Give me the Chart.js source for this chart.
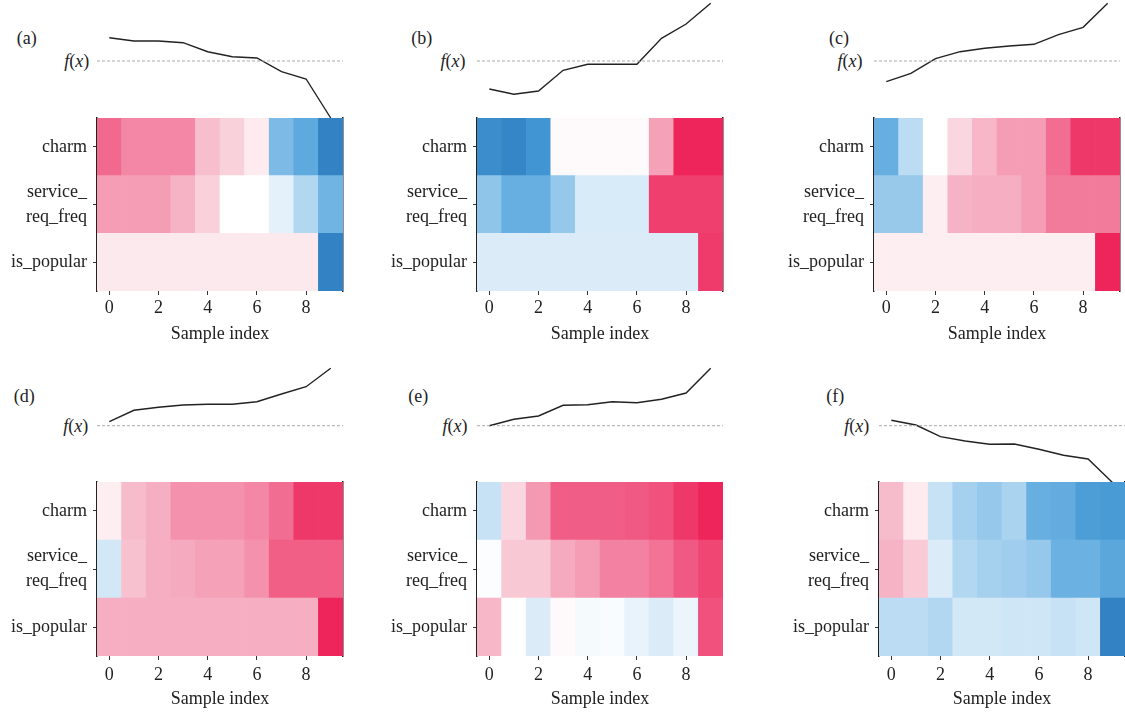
<!DOCTYPE html>
<html>
<head>
<meta charset="utf-8">
<title>SHAP heatmaps</title>
<script src="https://cdn.jsdelivr.net/npm/chart.js@4.4.1/dist/chart.umd.min.js"></script>
<style>
  body { margin: 0; background: #fff; }
  #fig { position: relative; width: 1125px; height: 713px; overflow: hidden;
         font-family: "Liberation Serif", serif; color: #222; }
  #fig canvas { position: absolute; }
  .lbl { position: absolute; font-size: 18px; white-space: nowrap;
         transform: translate(-50%, -50%); }
</style>
</head>
<body>
<div id="fig"></div>
<script>
// ---- data ----
const sampleIdx = [0, 1, 2, 3, 4, 5, 6, 7, 8, 9];
const xTickVals = [0, 2, 4, 6, 8];
const featureNames = ['is_popular', ['service_', 'req_freq'], 'charm']; // bottom -> top

// f(x) minus base value, per sample
const fxA = [0.233, 0.20, 0.20, 0.183, 0.093, 0.043, 0.03, -0.107, -0.18, -0.57];
const fxB = [-0.28, -0.333, -0.30, -0.093, -0.033, -0.033, -0.033, 0.227, 0.37, 0.577];
const fxC = [-0.207, -0.123, 0.023, 0.093, 0.127, 0.15, 0.167, 0.263, 0.337, 0.577];
const fxD = [0.04, 0.154, 0.184, 0.207, 0.214, 0.214, 0.24, 0.317, 0.39, 0.574];
const fxE = [0.0, 0.064, 0.097, 0.204, 0.21, 0.24, 0.23, 0.264, 0.327, 0.574];
const fxF = [0.054, 0.007, -0.11, -0.153, -0.186, -0.183, -0.236, -0.296, -0.333, -0.57];

// shap values (scaled -1..1)
const charmA   = [0.65, 0.5, 0.5, 0.5, 0.25, 0.18, 0.08, -0.45, -0.6, -0.95];
const serviceA = [0.4, 0.4, 0.4, 0.3, 0.18, 0, 0, -0.08, -0.25, -0.5];
const popularA = [0.09, 0.09, 0.09, 0.09, 0.09, 0.09, 0.09, 0.09, 0.09, -0.95];

const charmB   = [-0.85, -0.92, -0.78, 0.02, 0.02, 0.02, 0.02, 0.38, 0.97, 0.97];
const serviceB = [-0.38, -0.55, -0.55, -0.36, -0.12, -0.12, -0.12, 0.85, 0.85, 0.85];
const popularB = [-0.11, -0.11, -0.11, -0.11, -0.11, -0.11, -0.11, -0.11, -0.11, 0.87];

const charmC   = [-0.55, -0.22, 0, 0.16, 0.28, 0.4, 0.4, 0.63, 0.88, 0.88];
const serviceC = [-0.35, -0.35, 0.07, 0.3, 0.32, 0.32, 0.4, 0.56, 0.56, 0.56];
const popularC = [0.07, 0.07, 0.07, 0.07, 0.07, 0.07, 0.07, 0.07, 0.07, 0.97];

const charmD   = [0.07, 0.26, 0.32, 0.45, 0.45, 0.45, 0.5, 0.63, 0.88, 0.88];
const serviceD = [-0.14, 0.24, 0.32, 0.34, 0.38, 0.38, 0.45, 0.7, 0.7, 0.7];
const popularD = [0.32, 0.32, 0.32, 0.32, 0.32, 0.32, 0.32, 0.32, 0.32, 0.97];

const charmE   = [-0.18, 0.16, 0.42, 0.71, 0.71, 0.71, 0.73, 0.77, 0.88, 0.97];
const serviceE = [-0.01, 0.21, 0.21, 0.34, 0.4, 0.53, 0.53, 0.6, 0.73, 0.82];
const popularE = [0.28, 0, -0.11, 0.02, -0.03, -0.02, -0.07, -0.11, -0.06, 0.77];

const charmF   = [0.26, 0.08, -0.18, -0.3, -0.36, -0.28, -0.55, -0.57, -0.7, -0.72];
const serviceF = [0.3, 0.2, -0.11, -0.25, -0.3, -0.32, -0.36, -0.53, -0.53, -0.62];
const popularF = [-0.22, -0.22, -0.25, -0.14, -0.14, -0.15, -0.15, -0.18, -0.15, -0.95];

// ---- colour map (blue - white - red) ----
const cmapStops = [
  [-1.0, [45, 125, 192]], [-0.75, [68, 152, 212]], [-0.5, [112, 180, 228]],
  [-0.25, [178, 215, 240]], [-0.1, [222, 238, 249]], [0, [255, 255, 255]],
  [0.1, [252, 230, 236]], [0.25, [247, 190, 205]], [0.5, [243, 135, 165]],
  [0.75, [240, 85, 128]], [1.0, [238, 30, 85]]
];
function colorFor(v) {
  for (let i = 1; i < cmapStops.length; i++) {
    const [v1, c1] = cmapStops[i];
    const [v0, c0] = cmapStops[i - 1];
    if (v <= v1) {
      const t = (v - v0) / (v1 - v0);
      const c = c0.map((k, j) => Math.round(k + (c1[j] - k) * t));
      return `rgb(${c[0]},${c[1]},${c[2]})`;
    }
  }
  return 'rgb(238,30,85)';
}

Chart.defaults.font.family = '"Liberation Serif", serif';
Chart.defaults.font.size = 18;
Chart.defaults.color = '#222';
Chart.defaults.animation = false;

const UNIT = 100; // px per unit of f(x)
const HM_W = 246;
const AXIS_W = 100;
const X_AXIS_H = 62;

const panels = [
  { tag: '(a)', fx: fxA, rows: [popularA, serviceA, charmA], left: 97,  rowTop: 0,   hmTop: 118, hmH: 173, base: 61,    rightLine: true,  tagPos: [26.7, 37.7],  fxPos: [76.7, 61],   tickPad: 2, titlePad: 8 },
  { tag: '(b)', fx: fxB, rows: [popularB, serviceB, charmB], left: 477, rowTop: 0,   hmTop: 118, hmH: 173, base: 61,    rightLine: true,  tagPos: [421.7, 37.7], fxPos: [453, 61],    tickPad: 2, titlePad: 8 },
  { tag: '(c)', fx: fxC, rows: [popularC, serviceC, charmC], left: 874, rowTop: 0,   hmTop: 118, hmH: 173, base: 61,    rightLine: true,  tagPos: [839, 37.7],   fxPos: [850, 61],    tickPad: 2, titlePad: 8 },
  { tag: '(d)', fx: fxD, rows: [popularD, serviceD, charmD], left: 97,  rowTop: 355, hmTop: 482, hmH: 174, base: 425.7, rightLine: true,  tagPos: [24.3, 395.7], fxPos: [75.7, 425.7], tickPad: 4, titlePad: 8 },
  { tag: '(e)', fx: fxE, rows: [popularE, serviceE, charmE], left: 477, rowTop: 355, hmTop: 482, hmH: 174, base: 425.7, rightLine: false, tagPos: [418.3, 395.7], fxPos: [455, 425.7], tickPad: 4, titlePad: 8 },
  { tag: '(f)', fx: fxF, rows: [popularF, serviceF, charmF], left: 879, rowTop: 355, hmTop: 482, hmH: 174, base: 425.7, rightLine: true,  tagPos: [835.3, 395.7], fxPos: [856.7, 425.7], tickPad: 4, titlePad: 8 }
];

const fig = document.getElementById('fig');

function addCanvas(left, top, w, h) {
  const c = document.createElement('canvas');
  c.width = w; c.height = h;
  c.style.left = left + 'px'; c.style.top = top + 'px';
  c.style.width = w + 'px'; c.style.height = h + 'px';
  fig.appendChild(c);
  return c;
}

function addLabel(html, pos) {
  const d = document.createElement('div');
  d.className = 'lbl';
  d.innerHTML = html;
  d.style.left = pos[0] + 'px';
  d.style.top = pos[1] + 'px';
  fig.appendChild(d);
}

panels.forEach(p => {
  // f(x) line on top
  const lineBottom = p.hmTop + 3;
  const lc = addCanvas(p.left, p.rowTop, HM_W, lineBottom - p.rowTop);
  new Chart(lc, {
    type: 'line',
    data: {
      datasets: [
        { data: [{ x: -0.5, y: 0 }, { x: 9.5, y: 0 }], borderColor: '#aaa', borderWidth: 1,
          borderDash: [3, 2], pointRadius: 0 },
        { data: sampleIdx.map((x, i) => ({ x: x, y: p.fx[i] })), borderColor: '#222',
          borderWidth: 1.4, pointRadius: 0, tension: 0 }
      ]
    },
    options: {
      responsive: false,
      layout: { padding: 0 },
      plugins: { legend: { display: false }, tooltip: { enabled: false } },
      scales: {
        x: { type: 'linear', display: false, min: -0.5, max: 9.5 },
        y: { type: 'linear', display: false,
             min: (p.base - lineBottom) / UNIT, max: (p.base - p.rowTop) / UNIT }
      }
    }
  });

  // heatmap below
  const padTop = 20;
  const hc = addCanvas(p.left - AXIS_W, p.hmTop - padTop, AXIS_W + HM_W + 6, padTop + p.hmH + X_AXIS_H);
  new Chart(hc, {
    type: 'bar',
    data: {
      datasets: p.rows.map(vals => ({
        data: sampleIdx.map(x => ({ x: x, y: 1 })),
        backgroundColor: vals.map(colorFor),
        borderWidth: 0,
        barPercentage: 1,
        categoryPercentage: 1,
        stack: 'hm'
      }))
    },
    options: {
      responsive: false,
      layout: { padding: { top: padTop, right: 6, left: 0, bottom: 0 } },
      plugins: { legend: { display: false }, tooltip: { enabled: false } },
      scales: {
        x: {
          type: 'linear', min: -0.5, max: 9.5, offset: false, stacked: true,
          afterBuildTicks: s => { s.ticks = xTickVals.map(v => ({ value: v })); },
          afterFit: s => { s.height = X_AXIS_H; },
          ticks: { padding: p.tickPad, maxRotation: 0 },
          grid: { display: true, offset: false, drawOnChartArea: false, drawTicks: true,
                  tickLength: 4, color: '#333' },
          border: { display: false },
          title: { display: true, text: 'Sample index', padding: { top: 0, bottom: p.titlePad } }
        },
        y: {
          type: 'linear', min: 0, max: 3, stacked: true,
          afterBuildTicks: s => { s.ticks = [0.5, 1.5, 2.5].map(v => ({ value: v })); },
          afterFit: s => { s.width = AXIS_W; },
          ticks: { padding: 6, font: { lineHeight: 1.4 },
                   callback: v => featureNames[Math.floor(v)] },
          grid: { drawOnChartArea: false, offset: false, drawTicks: true, tickLength: 4, color: '#333' },
          border: { display: true, color: '#222', width: 1.5 }
        },
        yR: {
          position: 'right', display: p.rightLine, min: 0, max: 1,
          afterFit: s => { s.width = 0; },
          ticks: { display: false },
          grid: { display: false, drawTicks: false },
          border: { display: true, color: '#222', width: 1.5 }
        }
      }
    }
  });

  addLabel(p.tag, p.tagPos);
  addLabel('<i>f</i>(<i>x</i>)', p.fxPos);
});
</script>
</body>
</html>
